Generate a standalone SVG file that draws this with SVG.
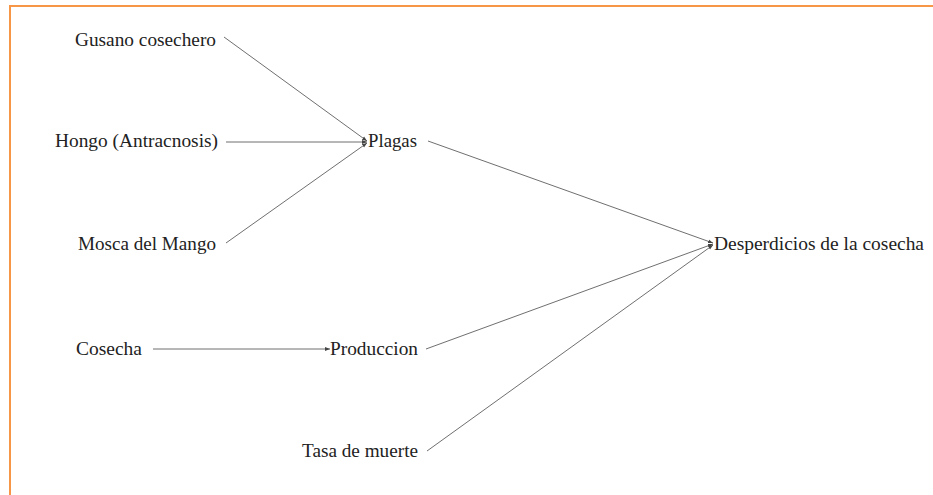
<svg xmlns="http://www.w3.org/2000/svg" width="933" height="495" viewBox="0 0 933 495">
  <style>
    text { font-family: 'Liberation Serif', 'DejaVu Serif', serif; font-size: 19px; fill: #222; }
    .edge { stroke: #6f6f6f; stroke-width: 1; fill: none; marker-end: url(#tip); }
    .frame { stroke: #f79646; stroke-width: 2; fill: none; }
  </style>
  <defs>
    <marker id="tip" viewBox="0 0 5 5" refX="5" refY="2.5" markerWidth="5" markerHeight="5" orient="auto" markerUnits="userSpaceOnUse">
      <path d="M0,0.6 L5,2.5 L0,4.4 z" fill="#444"/>
    </marker>
  </defs>

  <rect width="933" height="495" fill="#fff"/>
  <!-- page frame: top and left edges -->
  <path class="frame" d="M10,495 L10,6 L933,6"/>

  <g id="connectors">
    <line class="edge" x1="224" y1="37" x2="367" y2="141"/>
    <line class="edge" x1="226" y1="142" x2="367" y2="142"/>
    <line class="edge" x1="226" y1="243" x2="367" y2="143"/>
    <line class="edge" x1="428" y1="141" x2="713" y2="243"/>
    <line class="edge" x1="153" y1="349" x2="330" y2="349"/>
    <line class="edge" x1="426" y1="349" x2="713" y2="244"/>
    <line class="edge" x1="427" y1="451" x2="713" y2="245"/>
  </g>

  <g id="gusano"><text x="75" y="46" textLength="141" lengthAdjust="spacingAndGlyphs">Gusano cosechero</text></g>
  <g id="hongo"><text x="55" y="147" textLength="163" lengthAdjust="spacingAndGlyphs">Hongo (Antracnosis)</text></g>
  <g id="mosca"><text x="78" y="250" textLength="138" lengthAdjust="spacingAndGlyphs">Mosca del Mango</text></g>
  <g id="plagas"><text x="368" y="147" textLength="49" lengthAdjust="spacingAndGlyphs">Plagas</text></g>
  <g id="desperdicios"><text x="714" y="250" textLength="210" lengthAdjust="spacingAndGlyphs">Desperdicios de la cosecha</text></g>
  <g id="cosecha"><text x="76" y="355" textLength="66" lengthAdjust="spacingAndGlyphs">Cosecha</text></g>
  <g id="produccion"><text x="330" y="355" textLength="88" lengthAdjust="spacingAndGlyphs">Produccion</text></g>
  <g id="tasa"><text x="302" y="457" textLength="116" lengthAdjust="spacingAndGlyphs">Tasa de muerte</text></g>
</svg>
